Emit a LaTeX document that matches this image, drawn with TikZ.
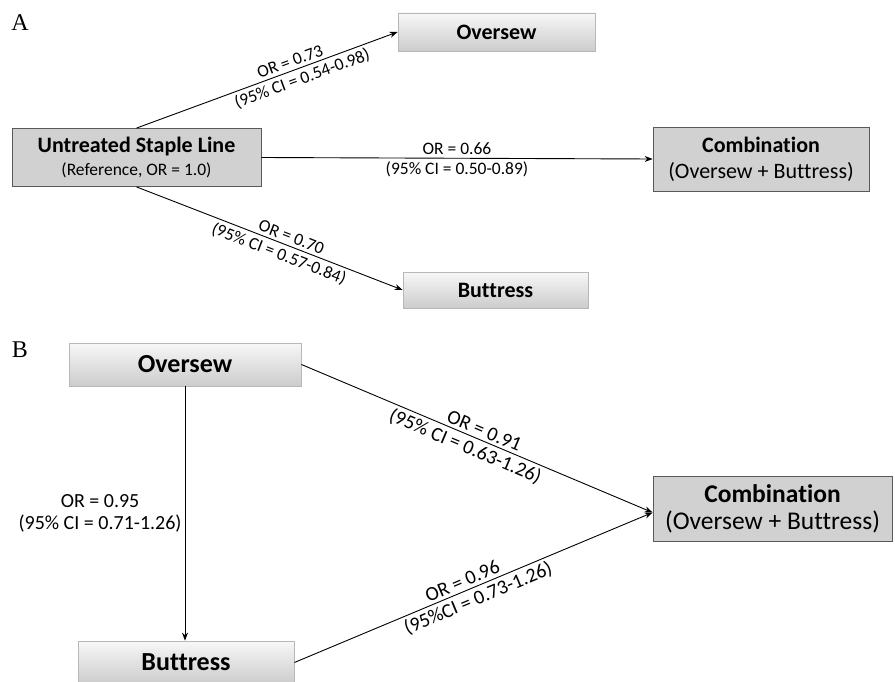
\documentclass[tikz,border=0pt]{standalone}
\usepackage{fontspec}
\setmainfont{Carlito}[Ligatures=NoCommon]
\newfontfamily\letterfont{Liberation Serif}
\usetikzlibrary{arrows.meta}

\begin{document}
\begin{tikzpicture}[x=1pt, y=-1pt,
	flatbox/.style={draw=black!65, fill=black!18, line width=0.8pt, inner sep=0pt, align=center},
	shadebox/.style={draw=black!28, top color=black!3, bottom color=black!20, line width=0.8pt, inner sep=0pt},
	arr/.style={-{Stealth[length=8pt, width=6pt]}, line width=0.9pt},
	labA/.style={font=\fontsize{17.5}{21}\selectfont, inner sep=3pt},
	labB/.style={font=\fontsize{20}{22}\selectfont, inner sep=3pt}]
	\useasboundingbox (0,0) rectangle (895,682) ;
	% panel A
		\node (pa) at (20, 23) {\letterfont\fontsize{24}{24}\selectfont A} ;
		\node (untr)[flatbox, minimum width=249, minimum height=58, font=\fontsize{22}{24}\selectfont] at (136.5, 157.5) {\bfseries Untreated Staple Line\\[-1pt]{\fontsize{17.5}{21}\selectfont (Reference, OR = 1.0)}} ;
		\node (ovA)[shadebox, minimum width=197, minimum height=38, font=\fontsize{22}{24}\selectfont\bfseries] at (496.5, 32) {Oversew} ;
		\node (combA)[flatbox, minimum width=216, minimum height=64, font=\fontsize{22}{26}\selectfont] at (761, 159) {\bfseries Combination\\(Oversew + Buttress)} ;
		\node (butA)[shadebox, minimum width=185, minimum height=36, font=\fontsize{22}{24}\selectfont\bfseries] at (495.5, 290) {Buttress} ;
	\draw[arr] (untr.north) -- (ovA.west)
		node[labA, sloped, above, pos=.6] {OR = 0.73}
		node[labA, sloped, below, pos=.62] {(95\% CI = 0.54-0.98)} ;
	\draw[arr] (untr.east) -- (combA.west)
		node[labA, above, pos=.5] {OR = 0.66}
		node[labA, below, pos=.5] {(95\% CI = 0.50-0.89)} ;
	\draw[arr] (untr.south) -- (butA.west)
		node[labA, sloped, above, pos=.57] {OR = 0.70}
		node[labA, sloped, below, pos=.55] {(95\% CI = 0.57-0.84)} ;
	% panel B
		\node (pb) at (20, 350) {\letterfont\fontsize{24}{24}\selectfont B} ;
		\node (ovB)[shadebox, minimum width=232, minimum height=43, font=\fontsize{26}{28}\selectfont\bfseries] at (185, 364.5) {Oversew} ;
		\node (butB)[shadebox, minimum width=216, minimum height=43, font=\fontsize{26}{28}\selectfont\bfseries] at (186, 662.5) {Buttress} ;
		\node (combB)[flatbox, minimum width=239, minimum height=65, font=\fontsize{25.5}{27}\selectfont] at (772.5, 508.5) {\bfseries Combination\\(Oversew + Buttress)} ;
	\draw[arr] (ovB.south) -- (ovB.south |- butB.north)
		node[labB, left, align=center, pos=.5] {OR = 0.95\\(95\% CI = 0.71-1.26)} ;
	\draw[arr] (ovB.east) -- ([yshift=-4pt]combB.west)
		node[labB, sloped, above, pos=.51] {OR = 0.91}
		node[labB, sloped, below, pos=.48] {(95\% CI = 0.63-1.26)} ;
	\draw[arr] (butB.east) -- ([yshift=-4pt]combB.west)
		node[labB, sloped, above, pos=.48] {OR = 0.96}
		node[labB, sloped, below, pos=.5] {(95\%CI = 0.73-1.26)} ;
\end{tikzpicture}
\end{document}
